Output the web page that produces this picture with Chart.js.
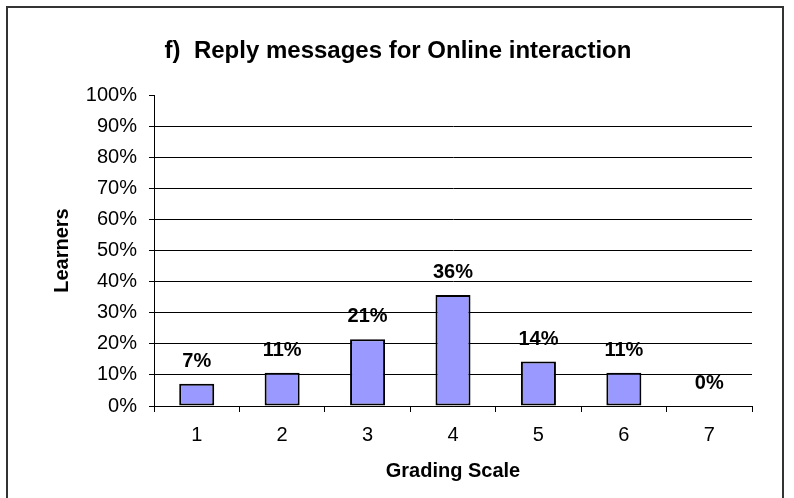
<!DOCTYPE html>
<html>
<head>
<meta charset="utf-8">
<script src="https://cdn.jsdelivr.net/npm/chart.js@4"></script>
<style>
  html, body { margin: 0; padding: 0; background: #fff; }
  #wrap { width: 794px; height: 498px; position: relative; }
</style>
</head>
<body>
<div id="wrap"><canvas id="replyChart"></canvas></div>
<script>
const grades = ["1", "2", "3", "4", "5", "6", "7"];
// share of learners per grade (28 learners)
const learnerShare = [7.14, 10.71, 21.43, 35.71, 14.29, 10.71, 0];
const yTicks = [0, 10, 20, 30, 40, 50, 60, 70, 80, 90, 100];

Chart.defaults.font.family = "'Liberation Sans', Arial, sans-serif";
Chart.defaults.color = "#000";

const frameAndTitle = {
  id: "frameAndTitle",
  beforeDraw(chart) {
    const ctx = chart.ctx;
    ctx.save();
    ctx.fillStyle = "#fff";
    ctx.fillRect(0, 0, chart.width, chart.height);
    ctx.restore();
  },
  afterDraw(chart) {
    const ctx = chart.ctx;
    ctx.save();
    ctx.strokeStyle = "#333";
    ctx.lineWidth = 2;
    ctx.strokeRect(7, 7, 776, 500);
    ctx.fillStyle = "#000";
    ctx.font = "bold 24px 'Liberation Sans', Arial, sans-serif";
    ctx.textAlign = "center";
    ctx.textBaseline = "middle";
    ctx.fillText("f)  Reply messages for Online interaction", 398, 51);
    ctx.restore();
  },
};

const barLabels = {
  id: "barLabels",
  afterDatasetsDraw(chart) {
    const ctx = chart.ctx;
    const meta = chart.getDatasetMeta(0);
    ctx.save();
    ctx.fillStyle = "#000";
    ctx.font = "bold 20px 'Liberation Sans', Arial, sans-serif";
    ctx.textAlign = "center";
    ctx.textBaseline = "alphabetic";
    meta.data.forEach((bar, i) => {
      ctx.fillText(Math.round(learnerShare[i]) + "%", bar.x, bar.y - 17);
    });
    ctx.restore();
  },
};

const replyChart = new Chart(document.getElementById("replyChart"), {
  type: "bar",
  data: {
    labels: grades,
    datasets: [
      {
        data: learnerShare,
        backgroundColor: "#9999FF",
        borderColor: "#000",
        borderWidth: 2,
        borderSkipped: false,
        barPercentage: 0.41,
        categoryPercentage: 1,
      },
    ],
  },
  options: {
    responsive: true,
    maintainAspectRatio: false,
    animation: false,
    layout: { padding: { top: 95, right: 42, bottom: 0, left: 40 } },
    plugins: {
      legend: { display: false },
      tooltip: { enabled: false },
      title: { display: false },
    },
    scales: {
      x: {
        afterFit(scale) { scale.height = 92; },
        grid: { drawOnChartArea: false, color: "#000", tickLength: 6 },
        border: { display: true, color: "#000", width: 1 },
        ticks: { font: { size: 20 }, padding: 11, color: "#000" },
        title: {
          display: true,
          text: "Grading Scale",
          font: { size: 20, weight: "bold" },
          padding: { top: 0, bottom: 15 },
        },
      },
      y: {
        min: 0,
        max: 100,
        afterFit(scale) { scale.width = 114; },
        afterBuildTicks(scale) { scale.ticks = yTicks.map((v) => ({ value: v })); },
        grid: {
          color: (c) => (c.tick && c.tick.value === 100 ? "rgba(0,0,0,0)" : "#000"),
          tickColor: "#000",
          tickLength: 5,
        },
        border: { display: true, color: "#000", width: 1 },
        ticks: {
          font: { size: 20 },
          padding: 12,
          color: "#000",
          callback: (v) => v + "%",
        },
        title: {
          display: true,
          text: "Learners",
          font: { size: 20, weight: "bold" },
          padding: { top: 10, bottom: 0 },
        },
      },
    },
  },
  plugins: [frameAndTitle, barLabels],
});
</script>
</body>
</html>
